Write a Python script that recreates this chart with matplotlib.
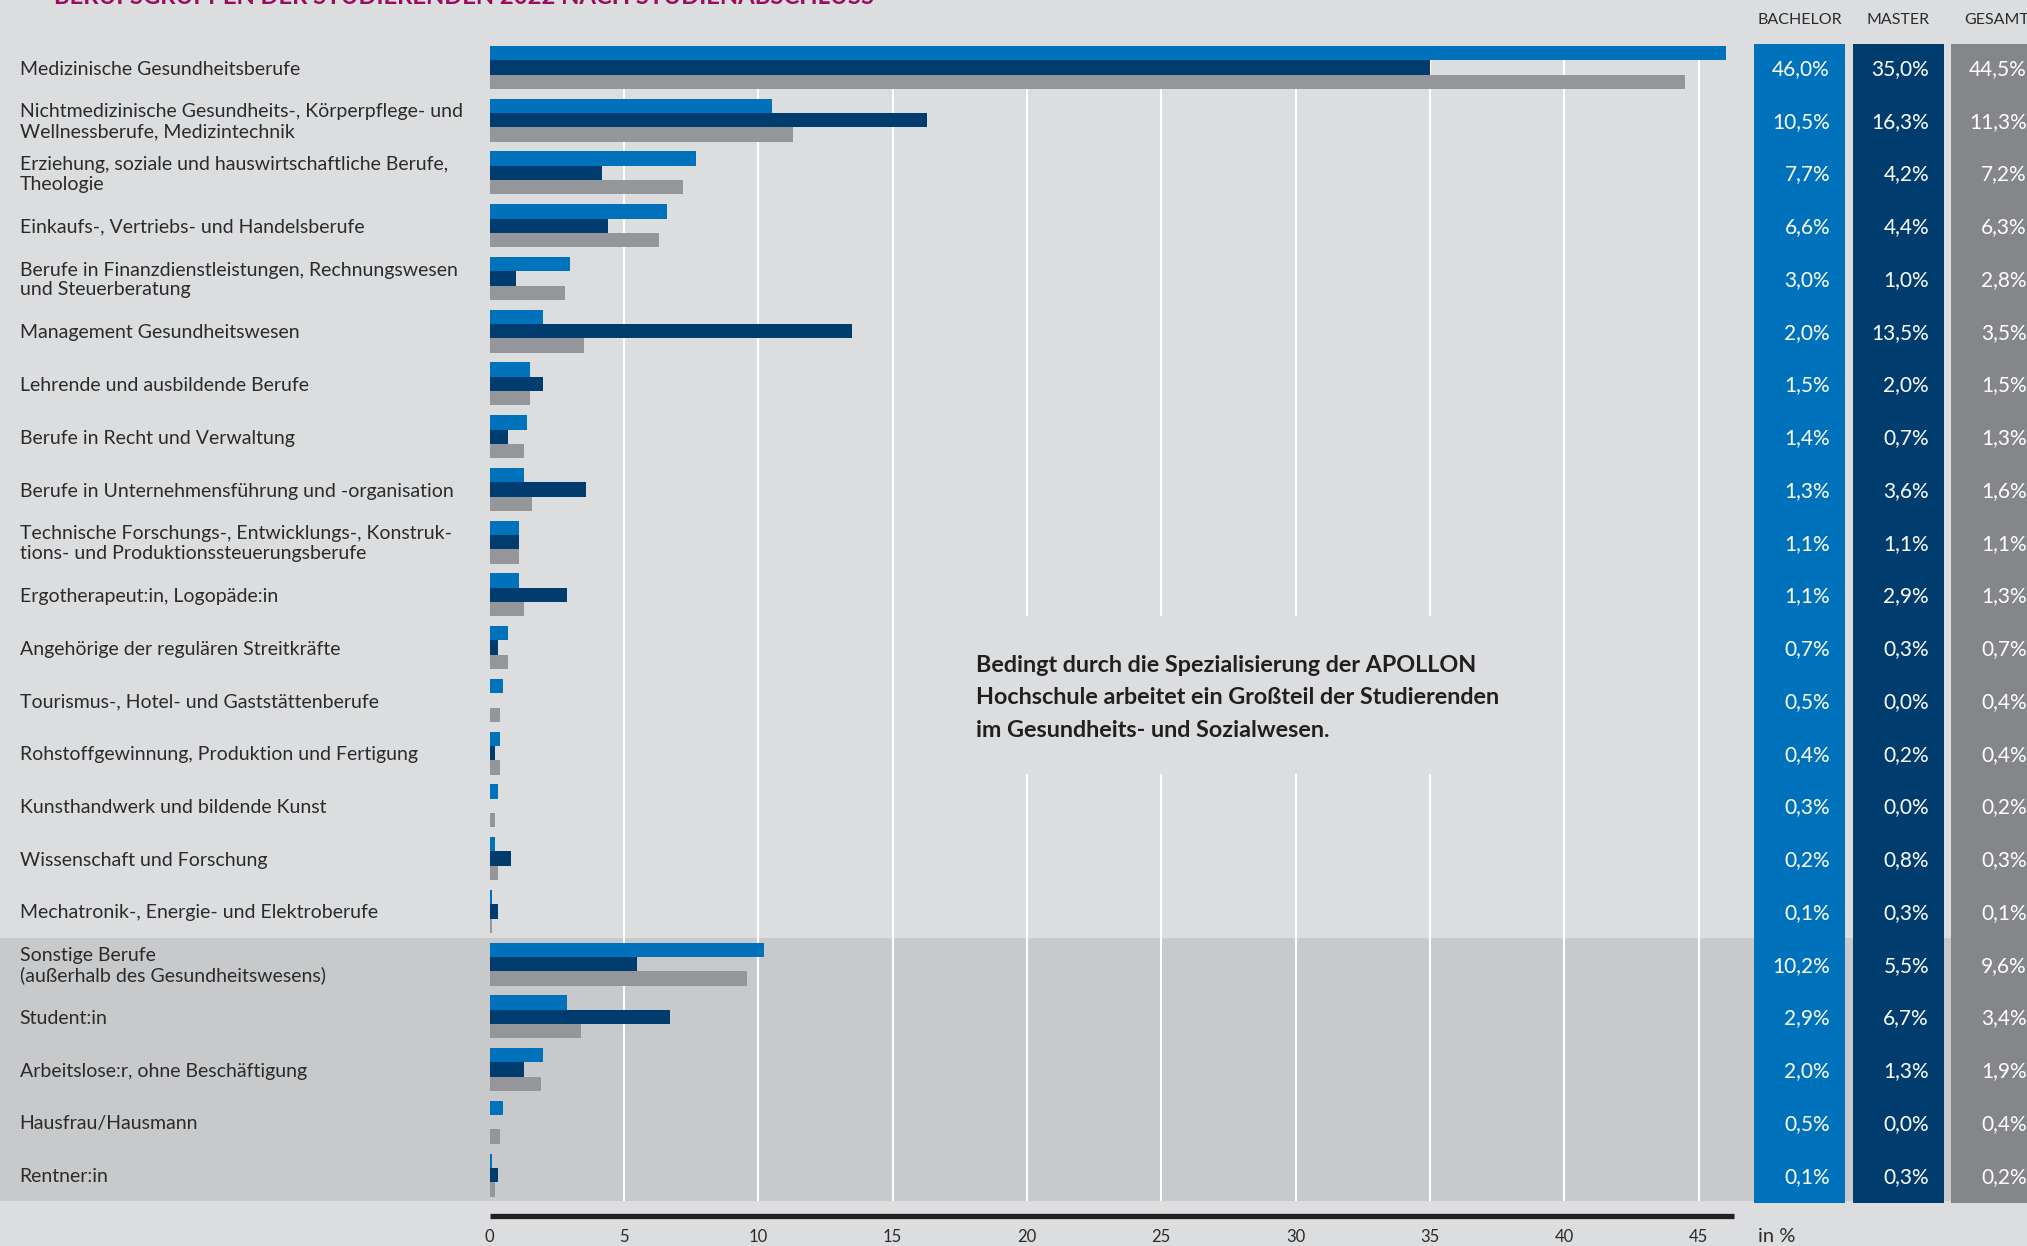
import matplotlib
matplotlib.use("Agg")
import matplotlib.pyplot as plt
import matplotlib.transforms as mtransforms
from matplotlib.patches import Rectangle

# ---------------- data ----------------
categories = [
    "Medizinische Gesundheitsberufe",
    "Nichtmedizinische Gesundheits-, Körperpflege- und\nWellnessberufe, Medizintechnik",
    "Erziehung, soziale und hauswirtschaftliche Berufe,\nTheologie",
    "Einkaufs-, Vertriebs- und Handelsberufe",
    "Berufe in Finanzdienstleistungen, Rechnungswesen\nund Steuerberatung",
    "Management Gesundheitswesen",
    "Lehrende und ausbildende Berufe",
    "Berufe in Recht und Verwaltung",
    "Berufe in Unternehmensführung und -organisation",
    "Technische Forschungs-, Entwicklungs-, Konstruk-\ntions- und Produktionssteuerungsberufe",
    "Ergotherapeut:in, Logopäde:in",
    "Angehörige der regulären Streitkräfte",
    "Tourismus-, Hotel- und Gaststättenberufe",
    "Rohstoffgewinnung, Produktion und Fertigung",
    "Kunsthandwerk und bildende Kunst",
    "Wissenschaft und Forschung",
    "Mechatronik-, Energie- und Elektroberufe",
    "Sonstige Berufe\n(außerhalb des Gesundheitswesens)",
    "Student:in",
    "Arbeitslose:r, ohne Beschäftigung",
    "Hausfrau/Hausmann",
    "Rentner:in",
]
bachelor = [46.0, 10.5, 7.7, 6.6, 3.0, 2.0, 1.5, 1.4, 1.3, 1.1, 1.1, 0.7, 0.5, 0.4, 0.3, 0.2, 0.1,
            10.2, 2.9, 2.0, 0.5, 0.1]
master = [35.0, 16.3, 4.2, 4.4, 1.0, 13.5, 2.0, 0.7, 3.6, 1.1, 2.9, 0.3, 0.0, 0.2, 0.0, 0.8, 0.3,
          5.5, 6.7, 1.3, 0.0, 0.3]
gesamt = [44.5, 11.3, 7.2, 6.3, 2.8, 3.5, 1.5, 1.3, 1.6, 1.1, 1.3, 0.7, 0.4, 0.4, 0.2, 0.3, 0.1,
          9.6, 3.4, 1.9, 0.4, 0.2]
series_names = ["BACHELOR", "MASTER", "GESAMT"]
xticks = [0, 5, 10, 15, 20, 25, 30, 35, 40, 45]
n_outside = 5  # last rows: outside the health sector (shaded block)
title = "BERUFSGRUPPEN DER STUDIERENDEN 2022 NACH STUDIENABSCHLUSS"
note_lines = ["Bedingt durch die Spezialisierung der APOLLON",
              "Hochschule arbeitet ein Großteil der Studierenden",
              "im Gesundheits- und Sozialwesen."]
unit_label = "in %"

# ---------------- style ----------------
BG = "#dcdddf"
SHADE = "#c8c9cb"
BLUE = "#0071bb"
NAVY = "#003d6e"
GRAY_BAR = "#95969a"
GRAY_COL = "#858689"
TEXT = "#2b2b2b"
MAGENTA = "#9b0d5b"
FONT = "Lato"

W, H = 2027, 1246
fig = plt.figure(figsize=(W / 100, H / 100), dpi=100)
fig.patch.set_facecolor(BG)

# pixel geometry of the plot scale
X0, UX = 489.5, 26.87     # x=0 pixel, pixels per percent
Y0, UY = 67.5, 52.74      # first row centre, pixels per row

ax = fig.add_axes([0, 0, 1, 1])
ax.set_xlim(-X0 / UX, (W - X0) / UX)
ax.set_ylim((H - Y0) / UY, -Y0 / UY)
ax.axis("off")
ax.set_facecolor(BG)

figpx = mtransforms.Affine2D().scale(1 / W, -1 / H).translate(0, 1) + fig.transFigure
x_px_y_data = mtransforms.blended_transform_factory(figpx, ax.transData)
x_data_y_px = mtransforms.blended_transform_factory(ax.transData, figpx)

n = len(categories)
rows = list(range(n))
bh = 0.272

# shaded block for "other" rows (full width)
ax.axhspan(n - n_outside - 0.5, n - 0.5, color=SHADE, zorder=0, lw=0)

# white gridlines
ax.vlines(xticks[1:], -1.5 * bh, n - 0.5, color="white", lw=1.5, zorder=1)

# background box behind the note (hides gridlines)
ax.add_patch(Rectangle((950, 616), 550, 158, transform=figpx, facecolor=BG,
                       edgecolor="none", zorder=2))

# bars
ax.barh([r - bh for r in rows], bachelor, height=bh, color=BLUE, zorder=3, lw=0)
ax.barh(rows, master, height=bh, color=NAVY, zorder=3, lw=0)
ax.barh([r + bh for r in rows], gesamt, height=bh, color=GRAY_BAR, zorder=3, lw=0)

# category labels
for r, lab in zip(rows, categories):
    ax.text(19.5, r + 0.03, lab, transform=x_px_y_data, ha="left", va="center",
            fontsize=14, family=FONT, color=TEXT, linespacing=1.2, zorder=4)

# value columns
col_left = [1754, 1853, 1951]
col_w = 91
col_colors = [BLUE, NAVY, GRAY_COL]
for name, left, c, vals in zip(series_names, col_left, col_colors, [bachelor, master, gesamt]):
    ax.add_patch(Rectangle((left, 44), col_w, 1202.5 - 44, transform=figpx,
                           facecolor=c, edgecolor="none", zorder=3))
    ax.text(left + col_w / 2, 20, name, transform=figpx, ha="center", va="center",
            fontsize=11.5, family=FONT, color=TEXT)
    for r, v in zip(rows, vals):
        ax.text(left + col_w - 15, r + 0.03, f"{v:.1f}".replace(".", ",") + "%",
                transform=x_px_y_data, ha="right", va="center",
                fontsize=15, family=FONT, color="white", zorder=4)

# axis line and tick labels
ax.plot([0, 46.3], [1215.5, 1215.5], transform=x_data_y_px, color="#231f20",
        lw=3.8, solid_capstyle="butt", zorder=4)
for t in xticks:
    ax.text(t, 1237, str(t), transform=x_data_y_px, ha="center", va="center",
            fontsize=12, family=FONT, color=TEXT)
ax.text(1758, 1237, unit_label, transform=figpx, ha="left", va="center",
        fontsize=14.5, family=FONT, color=TEXT)

# note
for k, line in enumerate(note_lines):
    ax.text(976, 672 + 32.5 * k, line, transform=figpx, ha="left", va="baseline",
            fontsize=16.8, family=FONT, weight="bold", color="#231f20", zorder=4)

# title (mostly cut off at the top edge, as in the source layout)
ax.text(54, 4, title, transform=figpx, ha="left", va="baseline",
        fontsize=17.2, family=FONT, weight="bold", color=MAGENTA)

fig.savefig("out.png", dpi=100, facecolor=BG)
